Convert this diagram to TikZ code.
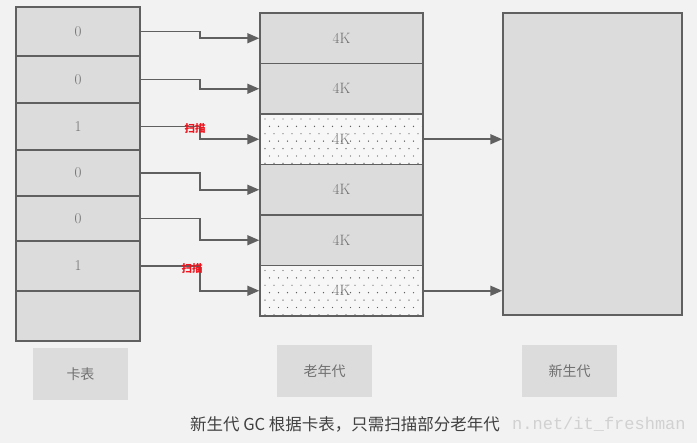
\documentclass[tikz,border=0pt]{standalone}
\usepackage{fontspec}
\newfontfamily\cjk{Noto Sans CJK SC}
\setmonofont{Liberation Mono}
\usetikzlibrary{arrows.meta,calc}
\definecolor{boxgray}{HTML}{DCDCDC}
\definecolor{linegray}{HTML}{606060}
\definecolor{txtgray}{HTML}{707070}
\definecolor{scanred}{HTML}{F0141E}
\tikzset{
	cell/.style={draw=linegray,line width=1.5pt,fill=boxgray,minimum width=124pt,inner sep=0pt,text=txtgray,font=\fontsize{15}{15}\selectfont},
	oldblk/.style={cell,minimum width=163pt,minimum height=50.5pt},
	dotblk/.style={oldblk,fill=white!97!black,path picture={
		\foreach \r in {0,...,6}
		\foreach \k in {0,...,17}
		\fill[linegray] ($(path picture bounding box.north west)+({5+9*\k+4.5*mod(\r,2)},{5+7.4*\r})$) circle(.7);}},
	lbl/.style={fill=boxgray,minimum width=95pt,minimum height=52pt,text=txtgray,font=\cjk\fontsize{14}{14}\selectfont},
	link/.style={draw=linegray,line width=1.6pt,-{Triangle[length=12pt,width=10pt]}},
	scan/.style={text=scanred,font=\cjk\bfseries\fontsize{10.5}{10.5}\selectfont,inner sep=0pt}
}
\begin{document}
\begin{tikzpicture}[x=1pt,y=-1pt]
	\fill[white!95!black] (0,0) rectangle (697,443);
	\useasboundingbox (0,0) rectangle (697,443);
	\path (200,0) coordinate (bend);
	\foreach \t/\b/\v [count=\i] in {7/56/0,56/103/0,103/150/1,150/196/0,196/241/0,241/291/1,291/341/{}}{
		\pgfmathsetmacro\hh{\b-\t}
		\node[cell,minimum height=\hh pt] (c\i) at (78,{(\t+\b)/2}) {\v};
	}
	\foreach \i in {1,2,4,5}
	\node[oldblk] (o\i) at (341.5,{13+50.5*(\i-.5)}) {4K};
	\foreach \i in {3,6}
	\node[dotblk] (o\i) at (341.5,{13+50.5*(\i-.5)}) {4K};
	\node[cell,minimum width=179pt,minimum height=302pt] (young) at (592.5,164) {};
	\foreach \i in {1,...,6}
	\draw[link] (c\i.east) -- (c\i.east -| bend) |- (o\i.west);
	\draw[link] (o3.east) -- (o3.east -| young.west);
	\draw[link] (o6.east) -- (o6.east -| young.west);
	\node[scan] (scan1) at (195,129) {扫描};
	\node[scan] (scan2) at (192,269) {扫描};
	\node[lbl] (cardlbl) at (80.5,374) {卡表};
	\node[lbl] (oldlbl) at (324.5,371) {老年代};
	\node[lbl] (younglbl) at (569.5,371.5) {新生代};
	\node[anchor=west,text=black!18,font=\ttfamily\fontsize{17}{17}\selectfont,inner sep=0pt] (mark) at (512,424) {n.net/it\_freshman};
	\node[text=black!75,font=\cjk\fontsize{16.5}{16.5}\selectfont,inner sep=0pt] (caption) at (345,424) {新生代 GC 根据卡表，只需扫描部分老年代};
\end{tikzpicture}
\end{document}
